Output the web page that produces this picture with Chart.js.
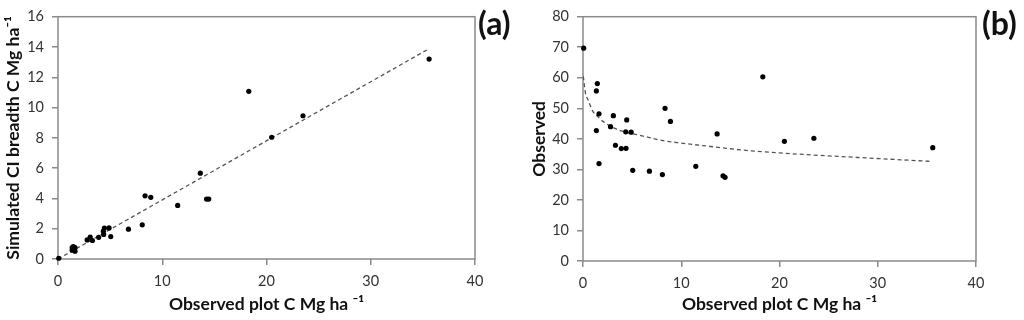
<!DOCTYPE html>
<html>
<head>
<meta charset="utf-8">
<script src="https://cdn.jsdelivr.net/npm/chart.js"></script>
<style>
    body { margin: 0; background: #fff; width: 1024px; height: 320px; overflow: hidden; position: relative; }
    canvas { position: absolute; top: 0; }
    .tag { position: absolute; top: 3px; font: bold 32px Lato, sans-serif; color: #111; }
</style>
</head>
<body>
<canvas id="chartA" width="520" height="320" style="left:0"></canvas>
<canvas id="chartB" width="504" height="320" style="left:520px"></canvas>
<div class="tag" style="left:478px">(a)</div>
<div class="tag" style="left:982px">(b)</div>

<script>
    // observed plot C (Mg ha-1), shared by both panels
    const obsC = [0.07, 1.36, 1.36, 1.46, 1.63, 1.63, 2.8, 3.09, 3.3, 3.9, 4.35, 4.38, 4.45, 4.9,
                  5.06, 6.76, 8.08, 8.35, 8.9, 11.48, 13.65, 14.25, 14.46, 18.3, 20.5, 23.5, 35.6];
    // panel (a): simulated CI breadth
    const simCI = [0.05, 0.76, 0.58, 0.82, 0.75, 0.52, 1.26, 1.45, 1.22, 1.43, 1.84, 1.62, 2.04, 2.05,
                   1.48, 1.97, 2.26, 4.17, 4.07, 3.54, 5.67, 3.96, 3.96, 11.07, 8.04, 9.46, 13.2];
    // panel (b): observed
    const observed = [69.7, 55.7, 42.7, 58.1, 48.2, 31.9, 44.0, 47.6, 37.9, 36.8, 42.3, 36.9, 46.2, 42.2,
                      29.7, 29.4, 28.3, 50.0, 45.7, 31.0, 41.6, 27.9, 27.4, 60.3, 39.2, 40.2, 37.1];

    // dashed trend lines
    const trendAx = [0, 35.5];
    const trendAy = [0, 13.85];
    const trendBx = [0.03, 0.25, 0.55, 1, 1.5, 2, 3, 4, 6, 8, 10, 13, 16, 20, 24, 28, 32, 35.5];
    const trendBy = [60.5, 55, 52.5, 49, 47.3, 45.8, 43.8, 42.5, 41.0, 39.5, 38.6, 37.5, 36.4, 35.4, 34.6, 33.9, 33.2, 32.6];

    const xTicks = [0, 10, 20, 30, 40];
    const yTicksA = [0, 2, 4, 6, 8, 10, 12, 14, 16];
    const yTicksB = [0, 10, 20, 30, 40, 50, 60, 70, 80];

    const FONT = 'Lato, "DejaVu Sans", sans-serif';
    const AXIS = '#8a8a8a';

    const toXY = (xs, ys) => xs.map((x, i) => ({ x: x, y: ys[i] }));

    const boxPlugin = {
        id: 'box',
        beforeDatasetsDraw(chart) {
            const a = chart.chartArea, c = chart.ctx;
            c.save();
            c.strokeStyle = AXIS;
            c.lineWidth = 1.5;
            c.strokeRect(a.left, a.top, a.right - a.left, a.bottom - a.top);
            c.restore();
        }
    };

    function makeChart(id, ys, tx, ty, yTicks, yTitle, yWidth, xHeight, padRight, titlePad) {
        return new Chart(document.getElementById(id), {
            type: 'scatter',
            data: {
                datasets: [{
                    data: toXY(obsC, ys),
                    backgroundColor: '#000',
                    borderWidth: 0,
                    pointRadius: 2.6,
                    clip: false
                }, {
                    data: toXY(tx, ty),
                    showLine: true,
                    pointRadius: 0,
                    borderColor: '#555',
                    borderWidth: 1.3,
                    borderDash: [4, 3],
                    cubicInterpolationMode: 'monotone'
                }]
            },
            options: {
                responsive: false,
                animation: false,
                layout: { padding: { top: 14, right: padRight, left: 0, bottom: 0 } },
                plugins: { legend: { display: false }, tooltip: { enabled: false } },
                scales: {
                    x: {
                        min: 0, max: 40,
                        afterBuildTicks: s => { s.ticks = xTicks.map(v => ({ value: v })); },
                        afterFit: s => { s.height = xHeight; },
                        grid: { drawOnChartArea: false, color: AXIS, tickLength: 6, lineWidth: 1.5 },
                        border: { display: false },
                        ticks: { color: '#333', font: { family: FONT, size: 14.5 }, padding: 8 },
                        title: { display: true, text: 'Observed plot C Mg ha \u207B\u00B9', color: '#111',
                                 font: { family: FONT, size: 17.5, weight: 'bold' }, padding: { top: 0, bottom: 5 } }
                    },
                    y: {
                        min: 0, max: yTicks[yTicks.length - 1],
                        afterBuildTicks: s => { s.ticks = yTicks.map(v => ({ value: v })); },
                        afterFit: s => { s.width = yWidth; },
                        grid: { drawOnChartArea: false, color: AXIS, tickLength: 6, lineWidth: 1.5 },
                        border: { display: false },
                        ticks: { color: '#333', font: { family: FONT, size: 14.5 }, padding: 8 },
                        title: { display: true, text: yTitle, color: '#111',
                                 font: { family: FONT, size: 17.5, weight: 'bold' }, padding: { top: titlePad, bottom: 0 } }
                    }
                }
            },
            plugins: [boxPlugin]
        });
    }

    makeChart('chartA', simCI, trendAx, trendAy, yTicksA, 'Simulated CI breadth C Mg ha\u207B\u00B9', 58, 61, 45, 3);
    makeChart('chartB', observed, trendBx, trendBy, yTicksB, 'Observed', 63, 59, 48, 9);
</script>
</body>
</html>
